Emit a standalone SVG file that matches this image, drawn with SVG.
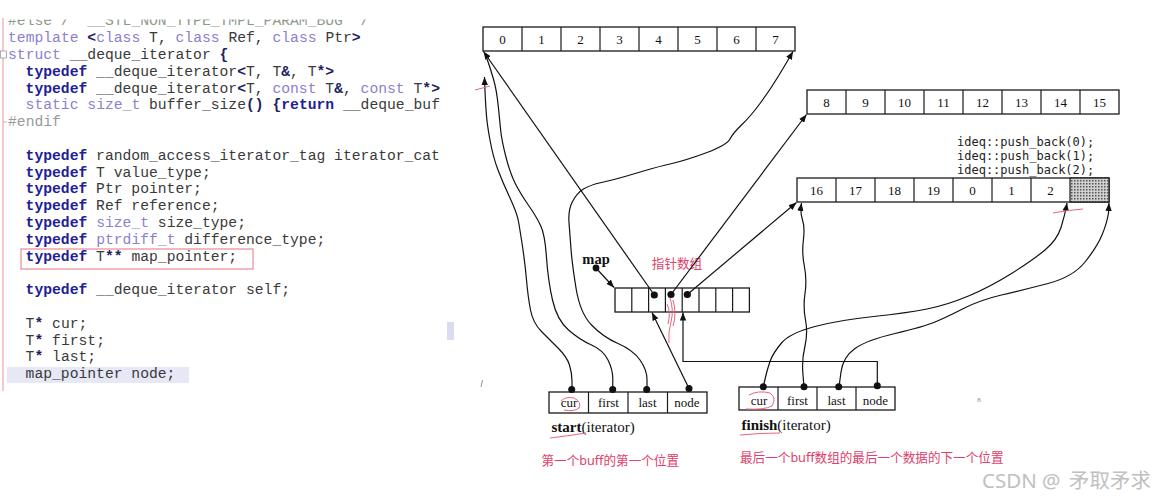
<svg xmlns="http://www.w3.org/2000/svg" width="1157" height="500" viewBox="0 0 1157 500">
<style>
.code{font-family:"Liberation Mono","Courier New",monospace;font-size:14.7px;fill:#3a3a3a;white-space:pre}
.kw{font-weight:bold;fill:#1e1e96}
.pp{fill:#8b80cf}
.op{font-weight:bold;fill:#202060}
.cm{fill:#999}
.cell{fill:#fff;stroke:#1a1a1a;stroke-width:1.3}
.div{stroke:#1a1a1a;stroke-width:1.2}
.num{font-family:"Liberation Serif","Times New Roman",serif;font-size:13px;fill:#111;text-anchor:middle}
.lbl{font-family:"Liberation Serif","Times New Roman",serif;font-size:13px;fill:#111;text-anchor:middle}
.push{font-family:"DejaVu Sans Mono","Liberation Mono",monospace;font-size:12px;fill:#222}
.red{font-family:"Noto Sans","Noto Sans CJK SC",sans-serif;font-size:12.6px;fill:#e0406a}
.con{fill:none;stroke:#111;stroke-width:1.2}
.pink{fill:none;stroke:#e8647c;stroke-width:1}
</style>
<defs>
<marker id="ah" viewBox="0 0 10 8" refX="10" refY="4" markerWidth="8" markerHeight="6.4" markerUnits="userSpaceOnUse" orient="auto"><path d="M0,0 L10,4 L0,8 z" fill="#111"/></marker>
<pattern id="hatch" width="3" height="3" patternUnits="userSpaceOnUse"><rect width="3" height="3" fill="#d0d0d0"/><rect width="1.5" height="1.5" fill="#555"/></pattern>
<clipPath id="codeclip"><rect x="0" y="19.5" width="460" height="380"/></clipPath>
</defs>
<rect width="1157" height="500" fill="#fff"/>

<g id="code-panel">
<line x1="3" y1="18" x2="3" y2="391" stroke="#eaa6b0" stroke-width="1.2"/>
<rect x="0.5" y="51" width="6" height="7" fill="#fff" stroke="#999" stroke-width="0.8"/>
<line x1="3" y1="122" x2="7" y2="122" stroke="#eaa6b0" stroke-width="1"/>
<rect x="21" y="249" width="232" height="20" fill="none" stroke="#e88a96" stroke-width="1.2"/>
<rect x="7" y="367" width="182" height="16" fill="#e6e8f5"/>
<rect x="447" y="322" width="7" height="18" fill="#dcdcf0"/>
<g clip-path="url(#codeclip)">
<text class="code cm" x="8" y="25" style="fill:#8c9a8c">#else /* __STL_NON_TYPE_TMPL_PARAM_BUG */</text>
<text class="code" x="8" y="42.2"><tspan class="pp">template</tspan> <tspan class="op">&lt;</tspan><tspan class="pp">class</tspan> T, <tspan class="pp">class</tspan> Ref, <tspan class="pp">class</tspan> Ptr<tspan class="op">&gt;</tspan></text>
<text class="code" x="8" y="59"><tspan class="pp">struct</tspan> __deque_iterator <tspan class="op">{</tspan></text>
<text class="code" x="25.6" y="75.8"><tspan class="kw">typedef</tspan> __deque_iterator<tspan class="op">&lt;</tspan>T, T<tspan class="op">&amp;</tspan>, T<tspan class="op">*&gt;</tspan></text>
<text class="code" x="25.6" y="92.6"><tspan class="kw">typedef</tspan> __deque_iterator<tspan class="op">&lt;</tspan>T, <tspan class="pp">const</tspan> T<tspan class="op">&amp;</tspan>, <tspan class="pp">const</tspan> T<tspan class="op">*&gt;</tspan></text>
<text class="code" x="25.6" y="109.4"><tspan class="pp">static</tspan> <tspan class="pp">size_t</tspan> buffer_size<tspan class="op">()</tspan> <tspan class="op">{</tspan><tspan class="kw">return</tspan> __deque_buf</text>
<text class="code cm" x="8" y="126.2">#endif</text>
<text class="code" x="25.6" y="159.8"><tspan class="kw">typedef</tspan> random_access_iterator_tag iterator_cat</text>
<text class="code" x="25.6" y="176.6"><tspan class="kw">typedef</tspan> T value_type;</text>
<text class="code" x="25.6" y="193.4"><tspan class="kw">typedef</tspan> Ptr pointer;</text>
<text class="code" x="25.6" y="210.2"><tspan class="kw">typedef</tspan> Ref reference;</text>
<text class="code" x="25.6" y="227"><tspan class="kw">typedef</tspan> <tspan class="pp">size_t</tspan> size_type;</text>
<text class="code" x="25.6" y="243.8"><tspan class="kw">typedef</tspan> <tspan class="pp">ptrdiff_t</tspan> difference_type;</text>
<text class="code" x="25.6" y="260.6"><tspan class="kw">typedef</tspan> T<tspan class="op">**</tspan> map_pointer;</text>
<text class="code" x="25.6" y="294.2"><tspan class="kw">typedef</tspan> __deque_iterator self;</text>
<text class="code" x="25.6" y="327.8">T<tspan class="op">*</tspan> cur;</text>
<text class="code" x="25.6" y="344.6">T<tspan class="op">*</tspan> first;</text>
<text class="code" x="25.6" y="361.4">T<tspan class="op">*</tspan> last;</text>
<text class="code" x="25.6" y="378.2">map_pointer node;</text>
</g>
</g>

<g id="buffer0">
<rect class="cell" x="483" y="27" width="312" height="24"/>
<path class="div" d="M522,27V51M561,27V51M600,27V51M639,27V51M678,27V51M717,27V51M756,27V51"/>
<text class="num" y="43.5"><tspan x="502.5">0</tspan><tspan x="541.5">1</tspan><tspan x="580.5">2</tspan><tspan x="619.5">3</tspan><tspan x="658.5">4</tspan><tspan x="697.5">5</tspan><tspan x="736.5">6</tspan><tspan x="775.5">7</tspan></text>
</g>

<g id="buffer8">
<rect class="cell" x="807" y="90" width="312" height="24"/>
<path class="div" d="M846,90V114M885,90V114M924,90V114M963,90V114M1002,90V114M1041,90V114M1080,90V114"/>
<text class="num" y="106.5"><tspan x="826.5">8</tspan><tspan x="865.5">9</tspan><tspan x="904.5">10</tspan><tspan x="943.5">11</tspan><tspan x="982.5">12</tspan><tspan x="1021.5">13</tspan><tspan x="1060.5">14</tspan><tspan x="1099.5">15</tspan></text>
</g>

<g id="buffer16">
<rect class="cell" x="797" y="178" width="312" height="24"/>
<rect x="1070" y="178" width="39" height="24" fill="url(#hatch)" stroke="#1a1a1a" stroke-width="1.2"/>
<path class="div" d="M836,178V202M875,178V202M914,178V202M953,178V202M992,178V202M1031,178V202"/>
<text class="num" y="194.5"><tspan x="816.5">16</tspan><tspan x="855.5">17</tspan><tspan x="894.5">18</tspan><tspan x="933.5">19</tspan><tspan x="972.5">0</tspan><tspan x="1011.5">1</tspan><tspan x="1050.5">2</tspan></text>
</g>

<g id="push-back-note">
<text class="push" x="957" y="146">ideq::push_back(0);</text>
<text class="push" x="957" y="160">ideq::push_back(1);</text>
<text class="push" x="957" y="174">ideq::push_back(2);</text>
</g>

<g id="map">
<rect class="cell" x="615" y="288" width="134.4" height="24"/>
<path class="div" d="M631.8,288V312M648.6,288V312M665.4,288V312M682.2,288V312M699,288V312M715.8,288V312M732.6,288V312"/>
<circle cx="654.3" cy="295" r="3.6" fill="#111"/>
<circle cx="671" cy="294.5" r="3.6" fill="#111"/>
<circle cx="687.3" cy="294.5" r="3.6" fill="#111"/>
<text x="596" y="264" font-family="Liberation Serif, Times New Roman, serif" font-size="14.5" font-weight="bold" fill="#111" text-anchor="middle">map</text>
<circle cx="596" cy="268" r="3.4" fill="#111"/>
<text class="red" x="677" y="267.5" text-anchor="middle">指针数组</text>
</g>

<g id="start-iterator">
<rect class="cell" x="549" y="392" width="158" height="21"/>
<path class="div" d="M588.5,392V413M628,392V413M667.5,392V413"/>
<text class="lbl" y="406.5"><tspan x="569">cur</tspan><tspan x="608.5">first</tspan><tspan x="647.5">last</tspan><tspan x="687">node</tspan></text>
<circle cx="571.7" cy="389.5" r="3.5" fill="#111"/>
<circle cx="612.7" cy="389.5" r="3.5" fill="#111"/>
<circle cx="646.7" cy="389.5" r="3.5" fill="#111"/>
<circle cx="689" cy="388.5" r="3.5" fill="#111"/>
<text x="551.5" y="432" font-family="Liberation Serif, Times New Roman, serif" font-size="15" fill="#111"><tspan font-weight="bold">start</tspan>(iterator)</text>
<text class="red" x="541.5" y="465">第一个buff的第一个位置</text>
</g>

<g id="finish-iterator">
<rect class="cell" x="739" y="387" width="156" height="23"/>
<path class="div" d="M778,387V410M817,387V410M856,387V410"/>
<text class="lbl" y="404.5"><tspan x="759">cur</tspan><tspan x="797.5">first</tspan><tspan x="836.5">last</tspan><tspan x="875.5">node</tspan></text>
<circle cx="763.3" cy="386.7" r="3.5" fill="#111"/>
<circle cx="804" cy="386.7" r="3.5" fill="#111"/>
<circle cx="838.7" cy="386.7" r="3.5" fill="#111"/>
<circle cx="877.3" cy="385.7" r="3.5" fill="#111"/>
<text x="741.5" y="430" font-family="Liberation Serif, Times New Roman, serif" font-size="15" fill="#111"><tspan font-weight="bold">finish</tspan>(iterator)</text>
<text class="red" x="740" y="462">最后一个buff数组的最后一个数据的下一个位置</text>
</g>

<g id="connectors">
<path class="con" marker-end="url(#ah)" d="M654.3,295 L483.5,51.5"/>
<path class="con" marker-end="url(#ah)" d="M671,294.5 L806.5,114.5"/>
<path class="con" marker-end="url(#ah)" d="M687.3,294.5 L796.5,202.5"/>
<path class="con" marker-end="url(#ah)" d="M596,268 L614,287.5"/>
<path class="con" marker-end="url(#ah)" d="M572,390 L572,381.5 Q572,373 569.5,365 Q567,357 558.5,348.5 Q550,340 541.5,331.5 Q533,323 530.5,310 Q528,297 526.5,280 Q525,263 522.5,246.5 Q520,230 518.5,221.5 Q517,213 510,198 Q503,183 498,170 Q493,157 490,140 Q486.7,123 486,109 Q485,95 484.5,77"/>
<path class="con" d="M612.7,389 L612.8,379.5 Q613,370 608,360 Q603,350 591.5,345 Q580,340 568.5,330 Q557,320 552.5,300 Q548,280 546.5,257.5 Q545,235 540.8,226 Q536.7,217 528.3,205 Q520,193 515,183 Q510,173 505.8,156.5 Q501.7,140 500.8,131.5 Q500,123 498.3,106.5 Q496.7,90 493.3,78.5 Q490,67 486,56"/>
<path class="con" marker-end="url(#ah)" d="M647,389 L647,379.5 Q647,370 640,360 Q633,350 618,343.5 Q603,337 591.5,325 Q580,313 576,288 Q572,263 571,249 Q570,235 569,222.5 Q568,210 572.5,201.5 Q577,193 583.5,189 Q590,185 601.5,182.5 Q613,180 625,176.5 Q637,173 647,170 Q657,167 672,163.5 Q687,160 707,152.5 Q727,145 730,139 Q733,133 741.5,125 Q750,117 760,103.5 Q770,90 778.5,76 Q787,62 793,51.5"/>
<path class="con" marker-end="url(#ah)" d="M689,388.5 L652,312.5"/>
<path class="con" marker-end="url(#ah)" d="M763.3,387 L765.2,378.5 Q767,370 770,361.5 Q773,353 781.5,343 Q790,333 815,326.5 Q840,320 873.5,316.5 Q907,313 927,309 Q947,305 968.5,296 Q990,287 1011.5,273.5 Q1033,260 1045,250 Q1057,240 1061,227.5 Q1065,215 1067,203"/>
<path class="con" marker-end="url(#ah)" d="M804,387 L802.9,373.5 Q801.7,360 804.9,346.5 Q808,333 805.5,320 Q803,307 805,293.5 Q807,280 804.4,266.5 Q801.7,253 803.4,240 Q805,227 802.5,220 Q800,213 801.5,203"/>
<path class="con" marker-end="url(#ah)" d="M839,387 L841,372 Q843,357 855,348.5 Q867,340 895,333.5 Q923,327 935,322 Q947,317 963.5,308.5 Q980,300 1001.5,295 Q1023,290 1048,283.5 Q1073,277 1085,262 Q1097,247 1102,235 Q1107,223 1108.5,213 L1109,203"/>
<path class="con" marker-end="url(#ah)" d="M877.3,386 V361.5 H683 V312.5"/>
</g>

<g id="annotations">
<path class="pink" d="M475,90 L490,86"/>
<path class="pink" d="M1053,213 Q1068,210 1083,209"/>
<path class="pink" d="M670,298 Q674,310 671,322 Q668,332 669,343 M673,300 Q677,314 673,326 M667,304 Q671,312 668,324"/>
<path class="pink" d="M561,401 Q566,396 574,398 Q582,402 579,408 Q574,412 564,410"/>
<path class="pink" d="M749,395 Q758,390 770,393 Q777,398 772,406 Q764,410 746,409"/>
<path class="pink" d="M550,438 Q567,436 586,433"/>
<path class="pink" d="M740,435 Q760,433 780,433"/>
<line x1="481" y1="387" x2="482.5" y2="380" stroke="#777" stroke-width="0.8"/>
<text x="979" y="402" font-family="Liberation Serif, serif" font-size="7" fill="#888" text-anchor="middle">8</text>
</g>

<g id="watermark" font-family="Noto Sans, Noto Sans CJK SC, sans-serif" fill="#c0c0c0">
<text x="982" y="488" font-size="20.5">CSDN @</text>
<text x="1069" y="488" font-size="20.5" font-family="Noto Sans CJK SC, sans-serif">矛取矛求</text>
</g>
</svg>
